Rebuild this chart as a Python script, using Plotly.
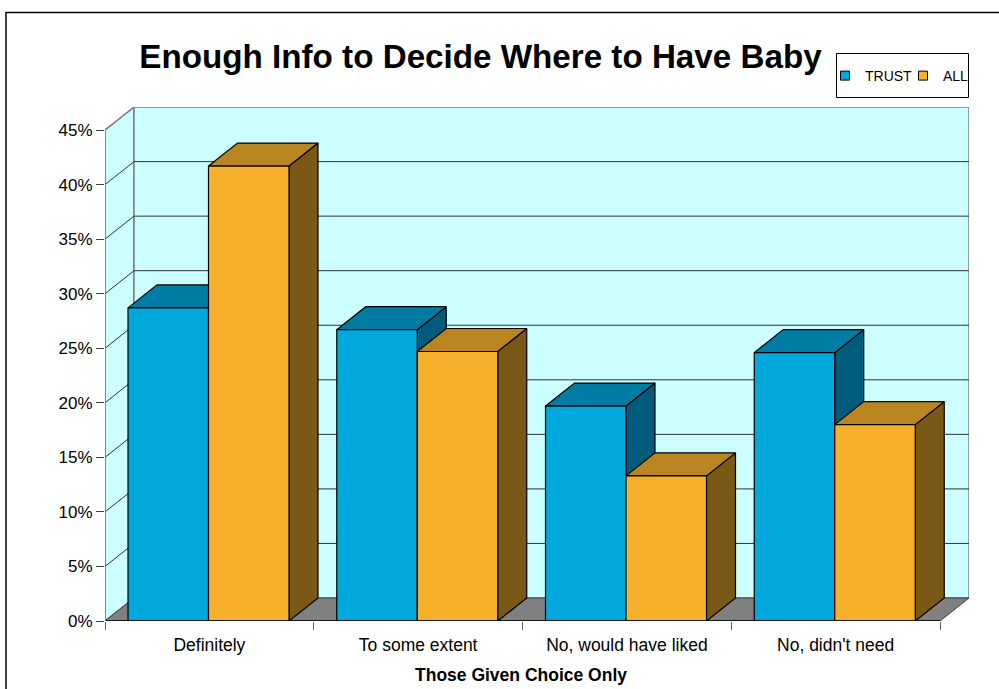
import plotly.graph_objects as go

# Survey shares, in percent
categories = ["Definitely", "To some extent", "No, would have liked", "No, didn't need"]
trust_values = [28.7, 26.7, 19.7, 24.6]
all_values = [41.7, 24.7, 13.3, 18.0]
y_ticks = [0, 5, 10, 15, 20, 25, 30, 35, 40, 45]
y_tick_labels = [f"{v}%" for v in y_ticks]

W, H = 999, 689
M_L, M_R, M_T, M_B = 105, 30, 107, 68
PX_PER_GROUP = 208.75
PX_PER_PCT = 10.91
plot_w = W - M_L - M_R
plot_h = H - M_T - M_B
DX = 29 / PX_PER_GROUP      # receding depth, horizontal, in group units
DY = 23 / PX_PER_PCT        # receding depth, vertical, in percentage points
BAR_W = 80.5 / PX_PER_GROUP
BAR_PAD = 23 / PX_PER_GROUP
N = len(categories)
TOP = y_ticks[-1]

WALL = "#CCFFFF"
FLOOR = "#808080"
EDGE = "#808080"
FONT = "Liberation Sans"


def px_x(px):
    return (px - M_L) / plot_w


def px_y(py):
    return 1 - (py - M_T) / plot_h


fig = go.Figure()


def poly(xs, ys, fill, line="#000000", width=1.2):
    fig.add_trace(go.Scatter(
        x=xs + xs[:1], y=ys + ys[:1], mode="lines", fill="toself", fillcolor=fill,
        line=dict(color=line, width=width), hoverinfo="skip", showlegend=False,
        cliponaxis=False,
    ))


def seg(xs, ys, color, width=1):
    fig.add_trace(go.Scatter(
        x=xs, y=ys, mode="lines", line=dict(color=color, width=width),
        hoverinfo="skip", showlegend=False, cliponaxis=False,
    ))


# Walls and floor
poly([0, DX, DX, 0], [0, DY, TOP + DY, TOP], WALL, EDGE, 1.5)
poly([DX, N + DX, N + DX, DX], [DY, DY, TOP + DY, TOP + DY], WALL, EDGE, 1.5)
poly([0, N, N + DX, DX], [0, 0, DY, DY], FLOOR, "#404040", 1)

# Gridlines on the side and back walls
for v in y_ticks[1:-1]:
    seg([0, DX, N + DX], [v, v + DY, v + DY], "#303030", 1)


def box(left, value, front, top, side):
    right = left + BAR_W
    poly([right, right + DX, right + DX, right], [0, DY, value + DY, value], side)
    poly([left, left + DX, right + DX, right], [value, value + DY, value + DY, value], top)
    poly([left, right, right, left], [0, 0, value, value], front)


series = [
    ("TRUST", trust_values, "#00A8DC", "#007BA3", "#005C7A"),
    ("ALL", all_values, "#F7B02C", "#B98520", "#7A5816"),
]

for i in range(N):
    for s, (_, values, front, top, side) in enumerate(series):
        box(i + BAR_PAD + s * BAR_W, values[i], front, top, side)

# Baseline and vertical axis lines
seg([0, N], [0, 0], "#000000", 1.5)
seg([0, 0], [0, TOP], EDGE, 1.5)

# Legend entries
for name, _, front, _, _ in series:
    fig.add_trace(go.Scatter(
        x=[None], y=[None], mode="markers", name=name,
        marker=dict(symbol="square", size=9, color=front, line=dict(color="#000000", width=1)),
    ))

fig.update_layout(
    width=W, height=H,
    margin=dict(l=M_L, r=M_R, t=M_T, b=M_B, pad=0),
    paper_bgcolor="white", plot_bgcolor="white",
    font=dict(family=FONT, color="#000000", size=17),
    title=dict(
        text="<b>Enough Info to Decide Where to Have Baby</b>",
        font=dict(size=33.2, family=FONT), x=480.5 / W, xanchor="center",
        y=1 - 56 / H, yanchor="middle",
    ),
    showlegend=True,
    legend=dict(
        orientation="h", xref="container", yref="container",
        x=825 / W, xanchor="left", y=1 - 76 / H, yanchor="middle",
        bgcolor="rgba(0,0,0,0)", borderwidth=0, font=dict(size=14, family=FONT),
        itemwidth=30, entrywidth=33, entrywidthmode="pixels",
    ),
    xaxis=dict(
        range=[0, plot_w / PX_PER_GROUP], automargin=False,
        tickmode="array", tickvals=[i + 0.5 for i in range(N)], ticktext=categories,
        ticks="", showgrid=False, zeroline=False, showline=False,
        tickfont=dict(size=17.5), ticklabelstandoff=11,
        minor=dict(tickmode="array", tickvals=list(range(N + 1)), ticks="outside",
                   ticklen=8, tickcolor="#606060", tickwidth=1, showgrid=False),
    ),
    yaxis=dict(
        range=[0, plot_h / PX_PER_PCT], automargin=False,
        tickmode="array", tickvals=y_ticks, ticktext=y_tick_labels,
        ticks="outside", ticklen=8, tickcolor="#404040", tickwidth=1,
        showgrid=False, zeroline=False, showline=False, tickfont=dict(size=17),
    ),
    annotations=[
        dict(text="<b>Those Given Choice Only</b>", xref="x", x=N / 2, xshift=-2,
             yref="paper", y=px_y(675),
             yanchor="middle", xanchor="center", showarrow=False, font=dict(size=17.5)),
    ],
    shapes=[
        # Outer chart frame
        dict(type="rect", xref="paper", yref="paper", layer="below",
             x0=px_x(6), x1=px_x(1010), y0=px_y(12.5), y1=px_y(700),
             line=dict(color="#000000", width=1.5), fillcolor="white"),
        # Legend frame
        dict(type="rect", xref="paper", yref="paper",
             x0=px_x(836.5), x1=px_x(968.5), y0=px_y(53.5), y1=px_y(97.5),
             line=dict(color="#000000", width=1), fillcolor="white", layer="below"),
    ],
)

fig.write_html("out.html")
